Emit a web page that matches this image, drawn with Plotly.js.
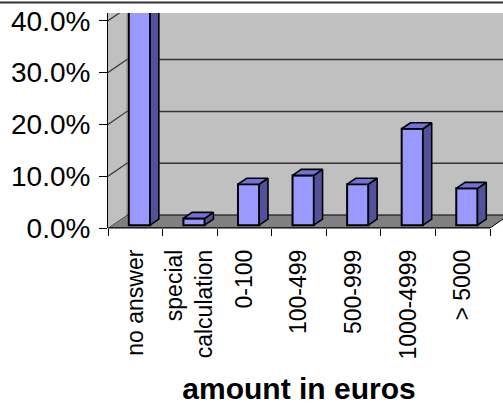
<!DOCTYPE html>
<html>
<head>
<meta charset="utf-8">
<script src="https://cdn.plot.ly/plotly-3.0.1.min.js"></script>
<style>html,body{margin:0;padding:0;background:#fff;}#chart{width:503px;height:405px;}</style>
</head>
<body>
<div id="chart"></div>
<script>
// ---- data ----
const categories = ['no answer', 'special<br>calculation', '0-100', '100-499', '500-999', '1000-4999', '> 5000'];
const values = [46, 1.3, 7.9, 9.6, 7.9, 18.6, 7.1];   // percent
const yTicks = [0, 10, 20, 30, 40];
const yTickText = ['0.0%', '10.0%', '20.0%', '30.0%', '40.0%'];
const xTitle = 'amount in euros';

// ---- 3D look parameters (style) ----
const DX = 0.348;   // depth offset in category units
const DY = 2.51;    // depth offset in percent units
const F0 = 0.22;    // front face depth fraction
const F1 = 0.68;    // back face depth fraction
const BW = 0.39;    // bar width
const YMAX = 41.5;
const DOM = 382 / 395;   // x domain end (plot area 108..490 of 108..503)
const font = '"Liberation Sans", Arial, sans-serif';

const n = categories.length;
const xIdx = categories.map((_, i) => i);
const dd = F1 - F0;
const base = F0 * DY;

// data -> paper helpers for the strip right of the plot area
const xp = xd => (xd + 0.5) / n * DOM;
const yp = yd => yd / YMAX;

// top and side faces built from values
const topX = [], topY = [], sideX = [], sideY = [];
values.forEach((v, i) => {
  const xl = i + F0 * DX - BW / 2, xr = i + F0 * DX + BW / 2;
  const yt = base + v, yb = base;
  topX.push(xl, xr, xr + dd * DX, xl + dd * DX, xl, null);
  topY.push(yt, yt, yt + dd * DY, yt + dd * DY, yt, null);
  sideX.push(xr, xr, xr + dd * DX, xr + dd * DX, xr, null);
  sideY.push(yb, yt, yt + dd * DY, yb + dd * DY, yb, null);
});

const traces = [
  {
    type: 'bar', x: xIdx.map(i => i + F0 * DX), y: values, base: base, width: BW,
    marker: {color: '#9999FF', line: {color: '#000', width: 2}}, hoverinfo: 'skip', showlegend: false
  },
  {
    type: 'scatter', mode: 'lines', x: sideX, y: sideY, fill: 'toself', fillcolor: '#52529C',
    line: {color: '#000', width: 1.6}, hoverinfo: 'skip', showlegend: false
  },
  {
    type: 'scatter', mode: 'lines', x: topX, y: topY, fill: 'toself', fillcolor: '#7272D6',
    line: {color: '#000', width: 1.6}, hoverinfo: 'skip', showlegend: false
  }
];

const shapes = [];
// back wall
shapes.push({type: 'rect', layer: 'below', xref: 'paper', yref: 'paper', x0: xp(-0.5 + DX), x1: 1, y0: yp(DY), y1: 1,
  fillcolor: '#C0C0C0', line: {width: 0}});
// left wall
shapes.push({type: 'path', layer: 'below', xref: 'x', yref: 'y',
  path: `M ${-0.5} 0 L ${-0.5 + DX} ${DY} L ${-0.5 + DX} ${YMAX} L ${-0.5} ${YMAX} Z`,
  fillcolor: '#C0C0C0', line: {width: 0}});
// floor
shapes.push({type: 'path', layer: 'below', xref: 'paper', yref: 'paper',
  path: `M ${xp(-0.5)} ${yp(0)} L ${xp(n - 0.5)} ${yp(0)} L ${xp(n - 0.5 + DX)} ${yp(DY)} L ${xp(-0.5 + DX)} ${yp(DY)} Z`,
  fillcolor: '#808080', line: {color: '#000', width: 1}});
// wall corner
shapes.push({type: 'line', layer: 'below', xref: 'x', yref: 'y', x0: -0.5 + DX, x1: -0.5 + DX, y0: DY, y1: YMAX,
  line: {color: '#8a8a8a', width: 1}});
// gridlines on back wall and left wall
yTicks.filter(v => v > 0 && v + DY < YMAX).forEach(v => {
  shapes.push({type: 'line', layer: 'below', xref: 'paper', yref: 'paper', x0: xp(-0.5 + DX), x1: 1, y0: yp(v + DY), y1: yp(v + DY),
    line: {color: '#333', width: 1.5}});
});
yTicks.filter(v => v > 0).forEach(v => {
  shapes.push({type: 'line', layer: 'below', xref: 'x', yref: 'y', x0: -0.5, x1: -0.5 + DX, y0: v, y1: v + DY,
    line: {color: '#333', width: 1.2}});
});
// front axis line
shapes.push({type: 'line', layer: 'above', xref: 'x', yref: 'y', x0: -0.5, x1: n - 0.5, y0: 0, y1: 0,
  line: {color: '#000', width: 1.2}});
// top border
shapes.push({type: 'line', layer: 'above', xref: 'paper', yref: 'paper', x0: -108 / 395, x1: 1, y0: 1 + 10.5 / 215, y1: 1 + 10.5 / 215,
  line: {color: '#333', width: 2}});

const layout = {
  width: 503, height: 405,
  margin: {l: 108, r: 0, t: 13, b: 177, pad: 0},
  paper_bgcolor: '#fff', plot_bgcolor: 'rgba(0,0,0,0)',
  font: {family: font, color: '#000'},
  showlegend: false,
  xaxis: {
    type: 'linear', range: [-0.5, n - 0.5], domain: [0, DOM], fixedrange: true,
    tickmode: 'array', tickvals: xIdx, ticktext: categories, tickangle: -90,
    ticks: '', showgrid: false, zeroline: false, showline: false,
    tickfont: {family: font, size: 23, color: '#000'},
    ticklabelstandoff: 16,
    minor: {tickmode: 'array', tickvals: xIdx.map(i => i - 0.5).concat([n - 0.5]), ticks: 'outside', ticklen: 7,
      tickcolor: '#000', tickwidth: 1, showgrid: false},
    title: {text: xTitle, font: {family: font, size: 30, weight: 'bold', color: '#000'}, standoff: 24}
  },
  yaxis: {
    range: [0, YMAX], fixedrange: true,
    tickmode: 'array', tickvals: yTicks, ticktext: yTickText,
    ticks: 'outside', ticklen: 8, tickcolor: '#000', tickwidth: 1,
    showline: true, linecolor: '#000', linewidth: 1,
    showgrid: false, zeroline: false,
    ticklabelstandoff: 3,
    tickfont: {family: font, size: 28, color: '#000'}
  },
  shapes: shapes
};

Plotly.newPlot('chart', traces, layout, {staticPlot: true, displayModeBar: false});
</script>
</body>
</html>
